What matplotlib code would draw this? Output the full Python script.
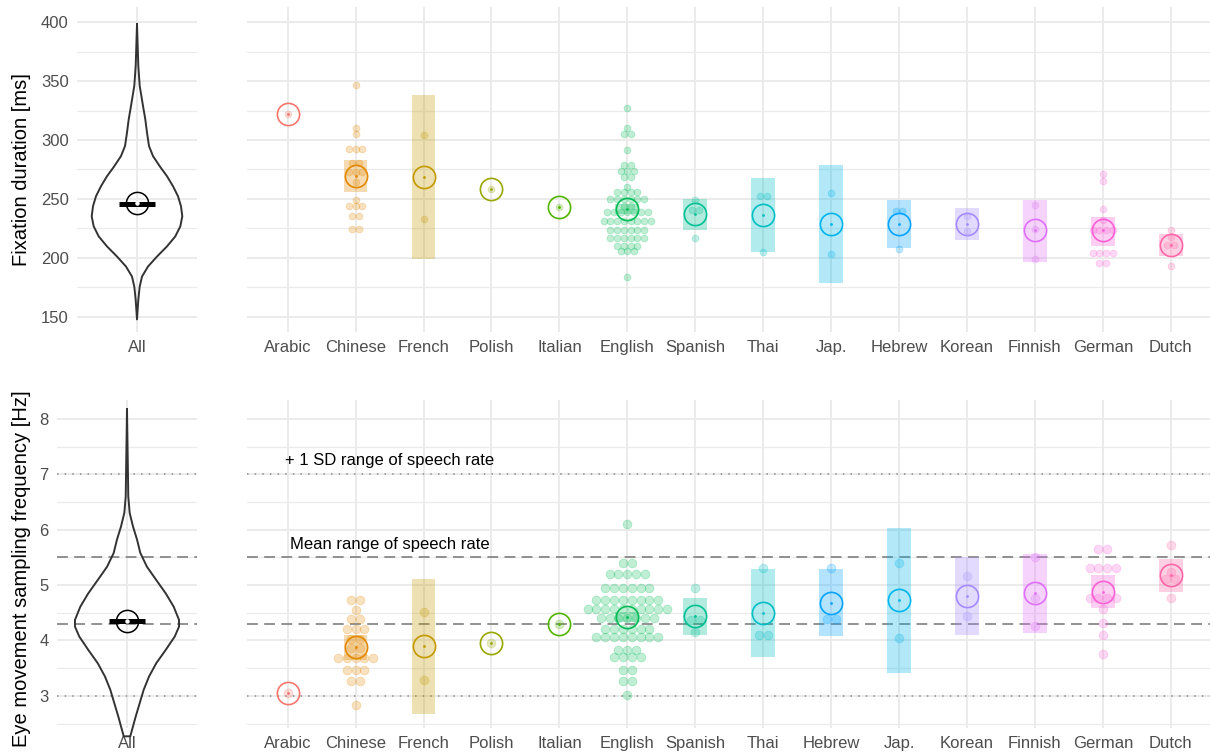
import matplotlib.pyplot as plt
import numpy as np

plt.rcParams['font.family'] = ['Liberation Sans', 'DejaVu Sans']

W, H = 1210, 754

# languages and ggplot hue colours
langs_top = ["Arabic", "Chinese", "French", "Polish", "Italian", "English", "Spanish",
             "Thai", "Jap.", "Hebrew", "Korean", "Finnish", "German", "Dutch"]
langs_bot = ["Arabic", "Chinese", "French", "Polish", "Italian", "English", "Spanish",
             "Thai", "Hebrew", "Jap.", "Korean", "Finnish", "German", "Dutch"]
palette = ["#F8766D", "#E38900", "#C49A00", "#99A800", "#53B400", "#00BC56", "#00C094",
           "#00BFC4", "#00B6EB", "#06A4FF", "#A58AFF", "#DF70F8", "#FB61D7", "#FF66A8"]
colors = dict(zip(langs_top, palette))

# ---- fixation duration (top) ----
fix_mean = {"Arabic": 322.4, "Chinese": 269.3, "French": 268.7, "Polish": 258.8,
            "Italian": 242.9, "English": 241.7, "Spanish": 237.2, "Thai": 236.6,
            "Jap.": 229.0, "Hebrew": 228.7, "Korean": 228.7, "Finnish": 223.3,
            "German": 223.3, "Dutch": 211.2}
fix_ci = {"Chinese": (255.6, 282.9), "French": (198.9, 338.3), "English": (237.5, 246.0),
          "Spanish": (223.3, 250.3), "Thai": (205.3, 267.9), "Jap.": (178.9, 279.2),
          "Hebrew": (208.2, 249.4), "Korean": (214.8, 242.6), "Finnish": (196.6, 248.8),
          "German": (210.2, 234.7), "Dutch": (201.7, 220.4)}
# dot rows: (value, count)
fix_dots = {
    "Arabic": [(322.4, 1)],
    "Chinese": [(346.8, 1), (310.5, 1), (304.8, 1), (292.0, 3), (280.7, 2), (272.7, 3),
                (264.5, 1), (249.4, 1), (244.3, 3), (235.8, 2), (224.7, 2)],
    "French": [(304.2, 1), (233.0, 1)],
    "Polish": [(258.8, 1)],
    "Italian": [(242.9, 1)],
    "English": [(327.0, 1), (310.5, 1), (304.8, 2), (291.2, 1), (278.4, 2), (274.1, 3),
                (268.4, 2), (259.9, 1), (256.0, 4), (250.3, 6), (243.7, 2), (238.6, 7),
                (231.5, 8), (223.8, 6), (216.7, 6), (210.2, 4), (205.4, 3), (184.0, 1)],
    "Spanish": [(249.4, 1), (240.9, 2), (216.7, 1)],
    "Thai": [(252.8, 2), (204.8, 1)],
    "Jap.": [(255.1, 1), (203.4, 1)],
    "Hebrew": [(240.0, 2), (207.9, 1)],
    "Korean": [(235.8, 1), (222.4, 1)],
    "Finnish": [(244.9, 1), (224.7, 1), (198.9, 1)],
    "German": [(271.6, 1), (265.0, 1), (241.7, 1), (232.4, 1), (223.8, 4), (204.5, 4),
               (195.5, 2)],
    "Dutch": [(223.8, 1), (217.6, 1), (211.2, 2), (193.4, 1)],
}
# violin outline of all subjects: (value, half width)
fix_vio_y = [398.6, 363.1, 346.0, 329.0, 317.6, 306.3, 294.9, 286.4, 277.8, 269.3, 260.8,
             252.3, 243.8, 235.2, 226.7, 218.2, 209.7, 201.1, 192.6, 184.1, 175.6, 164.2, 147.7]
fix_vio_w = [0.0, 0.013, 0.027, 0.06, 0.083, 0.10, 0.12, 0.16, 0.227, 0.30, 0.36,
             0.41, 0.44, 0.453, 0.433, 0.383, 0.30, 0.20, 0.11, 0.05, 0.027, 0.013, 0.0]
fix_all_mean = 246.6

# ---- sampling frequency (bottom) ----
freq_mean = {"Arabic": 3.06, "Chinese": 3.88, "French": 3.90, "Polish": 3.96,
             "Italian": 4.29, "English": 4.42, "Spanish": 4.44, "Thai": 4.49,
             "Hebrew": 4.68, "Jap.": 4.73, "Korean": 4.80, "Finnish": 4.85,
             "German": 4.87, "Dutch": 5.18}
freq_ci = {"Chinese": (3.65, 4.10), "French": (2.68, 5.11), "English": (4.33, 4.51),
           "Spanish": (4.10, 4.77), "Thai": (3.71, 5.29), "Hebrew": (4.08, 5.29),
           "Jap.": (3.41, 6.03), "Korean": (4.10, 5.50), "Finnish": (4.13, 5.56),
           "German": (4.58, 5.18), "Dutch": (4.87, 5.47)}
freq_dots = {
    "Arabic": [(3.06, 1)],
    "Chinese": [(4.73, 2), (4.55, 1), (4.39, 2), (4.20, 3), (4.03, 2), (3.86, 2),
                (3.68, 5), (3.47, 3), (3.26, 2), (2.84, 1)],
    "French": [(4.52, 1), (3.28, 1)],
    "Polish": [(3.96, 1)],
    "Italian": [(4.29, 1)],
    "English": [(6.10, 1), (5.40, 2), (5.20, 5), (4.95, 6), (4.73, 8), (4.57, 10),
                (4.40, 7), (4.20, 6), (4.06, 8), (3.83, 3), (3.70, 4), (3.47, 2),
                (3.27, 2), (3.02, 1)],
    "Spanish": [(4.94, 1), (4.37, 2), (4.16, 1)],
    "Thai": [(5.31, 1), (4.10, 2)],
    "Hebrew": [(5.30, 1), (4.39, 2)],
    "Jap.": [(5.40, 1), (4.05, 1)],
    "Korean": [(5.17, 1), (4.44, 1)],
    "Finnish": [(5.51, 1), (4.76, 1), (4.26, 1)],
    "German": [(5.65, 2), (5.30, 4), (4.77, 4), (4.56, 1), (4.31, 1), (4.10, 1), (3.75, 1)],
    "Dutch": [(5.73, 1), (5.24, 1), (5.11, 2), (4.76, 1)],
}
freq_vio_y = [8.17, 7.32, 6.60, 6.30, 6.06, 5.82, 5.58, 5.33, 5.09, 4.85, 4.61, 4.37,
              4.25, 4.07, 3.83, 3.59, 3.35, 3.11, 2.87, 2.63, 2.27]
freq_vio_w = [0.0, 0.006, 0.011, 0.023, 0.051, 0.086, 0.114, 0.171, 0.251, 0.332, 0.40,
              0.446, 0.446, 0.409, 0.332, 0.251, 0.189, 0.143, 0.109, 0.075, 0.028]
freq_all_mean = 4.36
speech_sd = [3.0, 7.0]
speech_mean = [4.3, 5.5]

GRID = "#EBEBEB"
TICK = "#4D4D4D"


def px_axes(x0, x1, y0, y1):
    return fig.add_axes([x0 / W, 1 - y1 / H, (x1 - x0) / W, (y1 - y0) / H])


def style(ax, ylim, major, minor, labels=True):
    ax.set_ylim(*ylim)
    ax.set_yticks(major)
    ax.set_yticks(minor, minor=True)
    ax.grid(which="major", color=GRID, lw=1.4, zorder=0)
    ax.grid(which="minor", axis="y", color=GRID, lw=0.9, zorder=0)
    ax.set_axisbelow(True)
    for s in ax.spines.values():
        s.set_visible(False)
    ax.tick_params(which="both", length=0, labelsize=12, labelcolor=TICK, pad=6)
    if not labels:
        ax.tick_params(axis="y", labelleft=False)


def violin(ax, ys, ws, mean, bar_w):
    ys = np.array(ys)
    ws = np.array(ws)
    xs = np.concatenate([1 - ws, (1 + ws)[::-1]])
    yy = np.concatenate([ys, ys[::-1]])
    ax.plot(xs, yy, color="#333333", lw=1.4, clip_on=False, zorder=3)
    ax.plot([1 - bar_w, 1 + bar_w], [mean - 0.002 * (ys.max() - ys.min()), ] * 2,
            color="black", lw=3.6, solid_capstyle="butt", zorder=4)
    ax.plot(1, mean, "o", ms=16, mfc="none", mec="black", mew=1.1, zorder=5)
    ax.plot(1, mean, "o", ms=2.2, color="white", zorder=6)
    ax.set_xlim(0.4, 1.6)
    ax.set_xticks([1])
    ax.set_xticklabels(["All"])


def groups(ax, langs, means, cis, dots, step, ms):
    pos = {l: i + 1 for i, l in enumerate(langs)}
    for l in langs:
        x = pos[l]
        c = colors[l]
        if l in cis:
            lo, hi = cis[l]
            ax.bar(x, hi - lo, bottom=lo, width=0.35, color=c, alpha=0.3, lw=0, zorder=2)
        for val, n in dots[l]:
            offs = (np.arange(n) - (n - 1) / 2) * step
            ax.plot(x + offs, np.full(n, val), "o", ms=ms, color=c, alpha=0.25,
                    mew=0.6, ls="none", zorder=3)
        ax.plot(x, means[l], "o", ms=16, mfc="none", mec=c, mew=1.2, zorder=5)
        ax.plot(x, means[l], "o", ms=1, color=c, zorder=5)
    ax.set_xlim(0.4, len(langs) + 0.6)
    ax.set_xticks(list(pos.values()))
    ax.set_xticklabels(langs)


fig = plt.figure(figsize=(W / 100, H / 100), dpi=100)

# top row
ax_tl = px_axes(77, 197, 7, 332)
ax_tr = px_axes(246.9, 1211.5, 7, 332)
# bottom row
ax_bl = px_axes(57, 197, 400, 728)
ax_br = px_axes(246.9, 1211.5, 400, 728)

top_major = [150, 200, 250, 300, 350, 400]
top_minor = [175, 225, 275, 325, 375]
bot_major = [3, 4, 5, 6, 7, 8]
bot_minor = [2.5, 3.5, 4.5, 5.5, 6.5, 7.5]

style(ax_tl, (137, 413), top_major, top_minor)
style(ax_tr, (137, 413), top_major, top_minor, labels=False)
style(ax_bl, (2.42, 8.34), bot_major, bot_minor)
style(ax_br, (2.42, 8.34), bot_major, bot_minor, labels=False)

for ax in (ax_bl, ax_br):
    for v in speech_sd:
        ax.axhline(v, color="#8C8C8C", lw=1.1, ls=(0, (1, 4)), zorder=1.5)
    for v in speech_mean:
        ax.axhline(v, color="#7F7F7F", lw=1.2, ls=(0, (6.5, 3.8)), zorder=1.5)

violin(ax_tl, fix_vio_y, fix_vio_w, fix_all_mean, 0.178)
violin(ax_bl, freq_vio_y, freq_vio_w, freq_all_mean, 0.152)

groups(ax_tr, langs_top, fix_mean, fix_ci, fix_dots, 0.10, 4.9)
groups(ax_br, langs_bot, freq_mean, freq_ci, freq_dots, 0.13, 6.3)

ax_br.text(2.5, 7.24, "+ 1 SD range of speech rate", ha="center", va="center",
           fontsize=12, color="black")
ax_br.text(2.5, 5.74, "Mean range of speech rate", ha="center", va="center",
           fontsize=12, color="black")

fig.text(22 / W, 1 - 170 / H, "Fixation duration [ms]", rotation=90, ha="center",
         va="center", fontsize=14.5)
fig.text(22 / W, 1 - 569 / H, "Eye movement sampling frequency [Hz]", rotation=90,
         ha="center", va="center", fontsize=14.5)

fig.savefig("out.png", dpi=100)
